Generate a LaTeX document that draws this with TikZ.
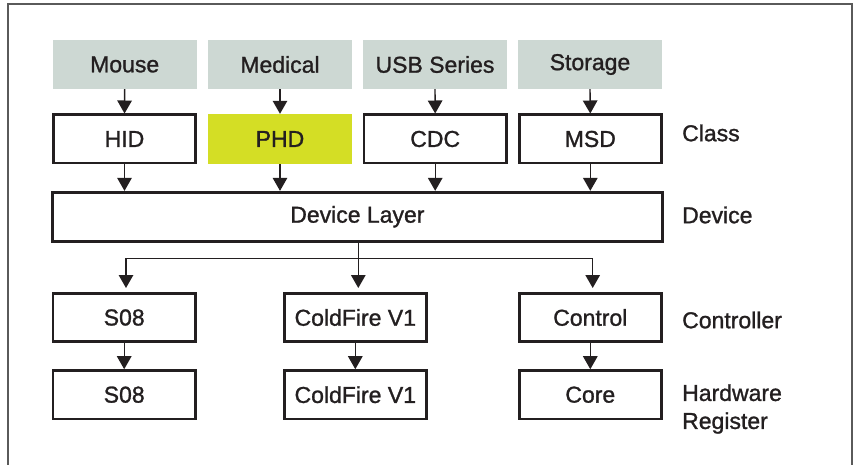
\documentclass[tikz,border=0pt]{standalone}
\usepackage{fontspec}
\setmainfont[FakeBold=1.2]{Liberation Sans}
\usetikzlibrary{arrows.meta}
\definecolor{grayfill}{HTML}{CDD8D3}
\definecolor{limefill}{HTML}{D4DE25}
\definecolor{ink}{HTML}{231F20}
\definecolor{framec}{HTML}{5A5A5A}
\begin{document}
\begin{tikzpicture}[x=1pt,y=-1pt,
  every node/.style={font=\fontsize{23}{28}\selectfont, text=ink},
  topbox/.style={rectangle, fill=grayfill, minimum width=144pt, minimum height=49pt, inner sep=0pt},
  blk/.style={rectangle, draw=ink, line width=2.7pt, fill=white, minimum width=142.3pt, minimum height=48.3pt, inner sep=0pt},
  limebox/.style={rectangle, fill=limefill, minimum width=144pt, minimum height=50pt, inner sep=0pt},
  lbl/.style={anchor=west, align=left, inner sep=0pt},
  arr/.style={draw=ink, line width=1.4pt, -{Triangle[width=14.5pt,length=13pt]}},
  ln/.style={draw=ink, line width=1.4pt}
]
\useasboundingbox (0,0) rectangle (854,465);
\draw[framec, line width=1.6pt] (8,466) -- (8,4) -- (852,4) -- (852,466);

% top row
\node[topbox] (mouse) at (124.7,64.5) {Mouse};
\node[topbox] (medical) at (280,64.5) {Medical};
\node[topbox] (usb) at (435,64.5) {USB Series};
\node[topbox] (storage) at (590,64.5) {Storage};

% class row
\node[blk] (hid) at (124.5,139) {HID};
\node[limebox] (phd) at (280,139) {PHD};
\node[blk] (cdc) at (435.2,139) {CDC};
\node[blk] (msd) at (590.3,139) {MSD};

% device layer
\node[blk, minimum width=610pt, minimum height=49pt] (dev) at (357.4,216.7) {Device Layer};

% controller row
\node[blk] (s08a) at (124.2,317.5) {S08};
\node[blk] (cfa) at (355.3,317.5) {ColdFire V1};
\node[blk] (ctrl) at (590.3,317.5) {Control};

% hardware row
\node[blk] (s08b) at (124.2,394.7) {S08};
\node[blk] (cfb) at (355.3,394.7) {ColdFire V1};
\node[blk] (core) at (590.3,394.7) {Core};

% labels
\node[lbl] (lclass) at (682,133) {Class};
\node[lbl] (ldev) at (682,215) {Device};
\node[lbl] (lctrl) at (682,320) {Controller};
\node[lbl] (lhw) at (682,409) {Hardware\\Register};

% arrows top -> class
\draw[arr] (mouse.south) -- (hid.north);
\draw[arr] (medical.south) -- (phd.north);
\draw[arr] (usb.south) -- (cdc.north);
\draw[arr] (storage.south) -- (msd.north);

% class -> device
\draw[arr] (hid.south) -- (hid.south |- dev.north);
\draw[arr] (phd.south) -- (phd.south |- dev.north);
\draw[arr] (cdc.south) -- (cdc.south |- dev.north);
\draw[arr] (msd.south) -- (msd.south |- dev.north);

% device -> controllers
\coordinate (j) at (358.3,258.3);
\coordinate (jl) at (126,258.3);
\coordinate (jr) at (592.7,258.3);
\draw[ln] (jl) -- (jr);
\draw[arr, shorten >=4pt] (dev.south -| j) -- (cfa.north -| j);
\draw[arr, shorten >=4pt] (jl) -- (s08a.north -| jl);
\draw[arr, shorten >=4pt] (jr) -- (ctrl.north -| jr);

% controller -> hardware
\draw[arr] (s08a.south) -- (s08b.north);
\draw[arr] (cfa.south) -- (cfb.north);
\draw[arr] (ctrl.south) -- (core.north);
\end{tikzpicture}
\end{document}
